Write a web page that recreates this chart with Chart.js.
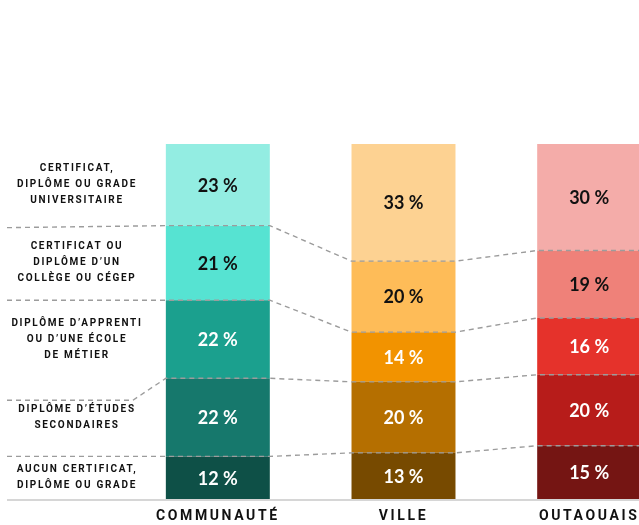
<!DOCTYPE html>
<html>
<head>
<meta charset="utf-8">
<script src="https://cdn.jsdelivr.net/npm/chart.js@4/dist/chart.umd.min.js"></script>
<style>
  html, body { margin: 0; padding: 0; background: #fff; overflow: hidden; }
  canvas { display: block; }
</style>
</head>
<body>
<canvas id="chart" width="690" height="525"></canvas>
<script>
// categories (bars)
const regions = ["COMMUNAUTÉ", "VILLE", "OUTAOUAIS"];

// education levels, bottom to top
const levels = [
  ["AUCUN CERTIFICAT,", "DIPLÔME OU GRADE"],
  ["DIPLÔME D’ÉTUDES", "SECONDAIRES"],
  ["DIPLÔME D’APPRENTI", "OU D’UNE ÉCOLE", "DE MÉTIER"],
  ["CERTIFICAT OU", "DIPLÔME D’UN", "COLLÈGE OU CÉGEP"],
  ["CERTIFICAT,", "DIPLÔME OU GRADE", "UNIVERSITAIRE"]
];

// % per level, in order communauté / ville / outaouais
const aucun = [12, 13, 15];
const secondaire = [22, 20, 20];
const apprenti = [22, 14, 16];
const college = [21, 20, 19];
const universite = [23, 33, 30];

const colors = [
  ["#0e5047", "#774a00", "#751513"],
  ["#16786c", "#b56f00", "#b71c1a"],
  ["#1ba08e", "#f29300", "#e5322b"],
  ["#56e3d2", "#febc58", "#ef8179"],
  ["#93ede2", "#fdd292", "#f4aca9"]
];
const textColors = ["#fff", "#fff", "#fff", "#111", "#111"];

const series = [aucun, secondaire, apprenti, college, universite];

// draws % labels, side labels, dashed connectors and baseline
const decorPlugin = {
  id: "decor",
  beforeDraw(chart) {
    chart.ctx.letterSpacing = "2.6px";
  },
  beforeDatasetsDraw(chart) {
    chart.ctx.letterSpacing = "0px";
  },
  afterDatasetsDraw(chart) {
    const ctx = chart.ctx;
    const W = chart.width;
    ctx.save();

    // baseline
    const base = chart.scales.y.getPixelForValue(0);
    ctx.strokeStyle = "#d6d6d6";
    ctx.lineWidth = 2;
    ctx.beginPath();
    ctx.moveTo(7, base + 1);
    ctx.lineTo(W, base + 1);
    ctx.stroke();

    // dashed connectors between levels
    ctx.strokeStyle = "#9c9c9c";
    ctx.lineWidth = 1.4;
    ctx.setLineDash([5, 4]);
    for (let k = 0; k < series.length - 1; k++) {
      const bars = chart.getDatasetMeta(k).data;
      const first = bars[0];
      ctx.beginPath();
      if (k === 1) {
        ctx.moveTo(7, first.y + 22);
        ctx.lineTo(first.x - first.width / 2 - 33, first.y + 22);
      } else if (k === 3) {
        ctx.moveTo(7, first.y + 2);
      } else {
        ctx.moveTo(7, first.y);
      }
      bars.forEach(b => {
        ctx.lineTo(b.x - b.width / 2, b.y);
        ctx.lineTo(b.x + b.width / 2, b.y);
      });
      ctx.lineTo(W, bars[bars.length - 1].y);
      ctx.stroke();
    }
    ctx.setLineDash([]);

    // value labels
    ctx.textAlign = "center";
    ctx.textBaseline = "middle";
    ctx.font = "bold 18px Lato";
    series.forEach((vals, k) => {
      chart.getDatasetMeta(k).data.forEach((b, j) => {
        ctx.fillStyle = textColors[k];
        ctx.fillText(vals[j] + " %", b.x, (b.y + b.base) / 2 + 1);
      });
    });

    // side labels
    ctx.font = "bold 10px Roboto";
    ctx.letterSpacing = "1.7px";
    ctx.fillStyle = "#111";
    levels.forEach((lines, k) => {
      const b = chart.getDatasetMeta(k).data[0];
      const cy = (b.y + b.base) / 2;
      const lh = 16;
      lines.forEach((t, i) => {
        ctx.fillText(t, 77, cy + (i - (lines.length - 1) / 2) * lh);
      });
    });
    ctx.restore();
  }
};

new Chart(document.getElementById("chart"), {
  type: "bar",
  data: {
    labels: regions,
    datasets: series.map((vals, k) => ({
      label: levels[k].join(" "),
      data: vals,
      backgroundColor: colors[k],
      borderWidth: 0,
      categoryPercentage: 1,
      barPercentage: 0.56
    }))
  },
  options: {
    responsive: false,
    animation: false,
    layout: { padding: { left: 125, right: 8, top: 144, bottom: 0 } },
    plugins: {
      legend: { display: false },
      tooltip: { enabled: false }
    },
    scales: {
      x: {
        stacked: true,
        grid: { display: false },
        border: { display: false },
        afterFit(scale) { scale.height = 26; },
        ticks: {
          color: "#111",
          padding: 1,
          font: { family: "Roboto", size: 14, weight: "bold" }
        }
      },
      y: {
        stacked: true,
        display: false,
        min: 0,
        max: 100
      }
    }
  },
  plugins: [decorPlugin]
});
</script>
</body>
</html>
